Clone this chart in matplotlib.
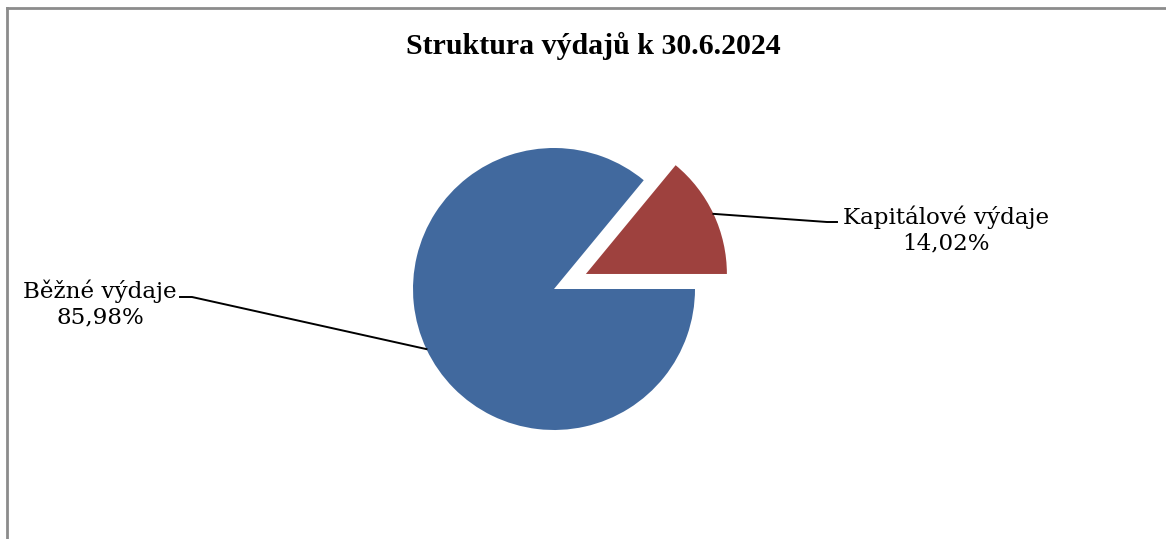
import matplotlib.pyplot as plt
import numpy as np

labels = ['Kapitálové výdaje', 'Běžné výdaje']
values = [14.02, 85.98]
colors = ['#9E413E', '#41699E']
explode = [0.25, 0]

W, H = 1166, 539
cx, cy, R = 554, 289, 141  # pie centre and radius in pixels

fig = plt.figure(figsize=(W / 100, H / 100), dpi=100)
ax = fig.add_axes([0, 0, 1, 1])
wedges, _ = ax.pie(values, colors=colors, explode=explode, startangle=0,
                   counterclock=True, radius=1,
                   wedgeprops=dict(linewidth=0))
# map data units to pixels: 1 unit = R px
ax.set_xlim(-cx / R, (W - cx) / R)
ax.set_ylim((cy - H) / R, cy / R)
ax.set_aspect('auto')
ax.axis('off')

# frame around the chart area
fig.add_artist(plt.Line2D([7 / W, 1], [1 - 7.5 / H, 1 - 7.5 / H], color='#8c8c8c', lw=2))
fig.add_artist(plt.Line2D([7 / W, 7 / W], [0, 1 - 7.5 / H], color='#8c8c8c', lw=2))

fig.text(593 / W, 1 - 54 / H, 'Struktura výdajů k 30.6.2024', ha='center', va='baseline',
         family='Liberation Serif', fontweight='bold', fontsize=21.5)

# labels with leader lines
label_pos = [((946 - cx) / R, (cy - 230) / R, (837 - cx) / R, (827 - cx) / R, (cy - 222) / R),
             ((100 - cx) / R, (cy - 304) / R, (180 - cx) / R, (192 - cx) / R, (cy - 297) / R)]
for w, lab, v, (tx, ty, hx0, hx1, hy) in zip(wedges, labels, values, label_pos):
    ang = np.deg2rad((w.theta1 + w.theta2) / 2)
    ex, ey = w.center[0] + w.r * np.cos(ang), w.center[1] + w.r * np.sin(ang)
    ax.plot([ex, hx1, hx0], [ey, hy, hy], color='black', lw=1.4)
    ax.text(tx, ty, f'{lab}\n{v:.2f}%'.replace('.', ','), ha='center', va='center',
            family='DejaVu Serif', fontsize=16.6, linespacing=1.2)

fig.savefig('out.png', dpi=100)
